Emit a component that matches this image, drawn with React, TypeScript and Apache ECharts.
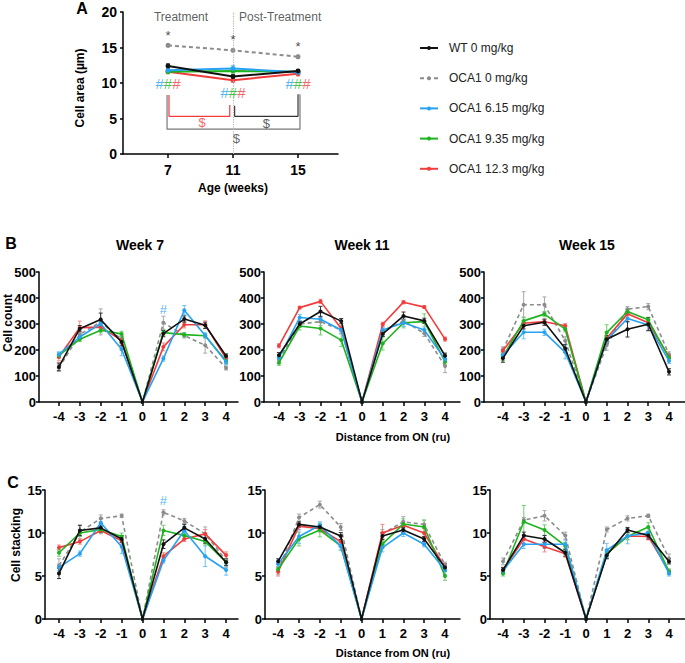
import React, { useEffect, useRef } from "react";
import * as echarts from "echarts";

const FONT = "'Liberation Sans', Arial, sans-serif";

const groupNames = ["WT 0 mg/kg", "OCA1 0 mg/kg", "OCA1 6.15 mg/kg", "OCA1 9.35 mg/kg", "OCA1 12.3 mg/kg"];
const groupColors = ["#111111", "#8c8c8c", "#26a2f2", "#1db31d", "#f23c3c"];
const errColors = ["#333333", "#a8a8a8", "#6cc0f5", "#6fd06f", "#f58585"];
const drawOrder = [1, 4, 3, 2, 0];

// ---------- Panel A : cell area by age ----------
const ageWeeks = [7, 11, 15];
const areaWT = [12.4, 10.9, 11.7];
const areaOCA0 = [15.3, 14.6, 13.7];
const areaOCA615 = [11.8, 12.05, 11.5];
const areaOCA935 = [11.6, 11.7, 11.6];
const areaOCA123 = [11.6, 10.4, 11.3];
const areaErrWT = [0.3, 0.3, 0.2];
const areaErrOCA0 = [0.2, 0.2, 0.2];
const areaErrOCA615 = [0.3, 0.4, 0.3];
const areaErrOCA935 = [0.3, 0.3, 0.2];
const areaErrOCA123 = [0.2, 0.3, 0.3];

// annotations of panel A (data coordinates)
const starPos = [[7, 16.7], [11, 16.1], [15, 15.1]];
const hashPos = [[7, 9.95], [11, 8.64], [15, 9.95]];
const bracketRed = [[7.06, 8.3], [7.06, 5.3], [10.8, 5.3], [10.8, 6.9]];
const bracketBlack = [[11.1, 6.8], [11.1, 5.3], [15, 5.3], [15, 8.4]];
const bracketGrey = [[6.94, 8.3], [6.94, 3.5], [15.12, 3.5], [15.12, 8.4]];
const dollarRedPos = [9.1, 4.5];
const dollarBlackPos = [13.05, 4.35];
const dollarGreyPos = [11.2, 2.2];
const phaseLabels = ["Treatment", "Post-Treatment"];
const phasePos = [[7.8, 19.3], [13.9, 19.3]];

// ---------- distance axis ----------
const distance = [-4, -3, -2, -1, 0, 1, 2, 3, 4];

// ---------- Panel B : cell count ----------
const count7WT = [135, 282, 317, 231, 0, 263, 319, 295, 177];
const count7OCA0 = [131, 260, 308, 241, 0, 305, 256, 218, 131];
const count7OCA615 = [183, 250, 301, 203, 0, 167, 353, 256, 154];
const count7OCA935 = [179, 241, 276, 262, 0, 267, 259, 255, 158];
const count7OCA123 = [173, 286, 288, 237, 0, 212, 297, 297, 167];
const count7ErrWT = [15, 12, 25, 15, 0, 12, 12, 12, 8];
const count7ErrOCA0 = [12, 15, 50, 15, 0, 25, 10, 30, 8];
const count7ErrOCA615 = [10, 10, 15, 25, 0, 10, 18, 10, 10];
const count7ErrOCA935 = [10, 8, 10, 10, 0, 10, 8, 8, 10];
const count7ErrOCA123 = [15, 25, 15, 15, 0, 15, 12, 15, 10];

const count11WT = [180, 300, 348, 311, 0, 262, 331, 312, 178];
const count11OCA0 = [164, 300, 309, 277, 0, 270, 312, 264, 138];
const count11OCA615 = [170, 325, 318, 277, 0, 277, 305, 277, 164];
const count11OCA935 = [151, 292, 283, 238, 0, 225, 305, 309, 155];
const count11OCA123 = [216, 363, 387, 283, 0, 299, 384, 365, 242];
const count11ErrWT = [10, 10, 20, 10, 0, 10, 15, 10, 10];
const count11ErrOCA0 = [15, 12, 15, 12, 0, 15, 20, 12, 25];
const count11ErrOCA615 = [12, 12, 12, 15, 0, 12, 15, 12, 12];
const count11ErrOCA935 = [10, 15, 25, 25, 0, 25, 20, 30, 10];
const count11ErrOCA123 = [8, 5, 8, 10, 0, 8, 6, 5, 8];

const count15WT = [168, 293, 307, 206, 0, 241, 280, 299, 116];
const count15OCA0 = [200, 374, 374, 236, 0, 219, 357, 367, 183];
const count15OCA615 = [180, 268, 268, 191, 0, 238, 321, 296, 158];
const count15OCA935 = [174, 312, 338, 280, 0, 267, 348, 316, 170];
const count15OCA123 = [197, 303, 309, 293, 0, 245, 339, 305, 174];
const count15ErrWT = [15, 12, 12, 15, 0, 15, 30, 25, 12];
const count15ErrOCA0 = [12, 50, 30, 15, 0, 20, 10, 12, 10];
const count15ErrOCA615 = [12, 25, 12, 25, 0, 15, 15, 20, 10];
const count15ErrOCA935 = [15, 15, 10, 10, 0, 30, 10, 10, 8];
const count15ErrOCA123 = [10, 10, 8, 8, 0, 10, 8, 10, 8];

// ---------- Panel C : cell stacking ----------
const stack7WT = [5.3, 10.3, 10.6, 9.3, 0, 8.7, 10.6, 9.3, 6.6];
const stack7OCA0 = [6.2, 10.1, 11.7, 12.0, 0, 12.4, 11.4, 9.9, 6.8];
const stack7OCA615 = [6.0, 7.6, 11.2, 8.4, 0, 6.8, 10.3, 7.3, 5.7];
const stack7OCA935 = [7.7, 10.0, 10.4, 9.6, 0, 10.3, 9.7, 9.0, 6.6];
const stack7OCA123 = [8.3, 9.0, 10.3, 9.1, 0, 7.3, 9.3, 9.9, 7.4];
const stack7ErrWT = [0.6, 0.6, 0.5, 0.4, 0, 0.5, 0.4, 0.5, 0.4];
const stack7ErrOCA0 = [0.8, 0.8, 0.4, 0.2, 0, 0.3, 0.3, 0.8, 0.8];
const stack7ErrOCA615 = [0.4, 0.3, 0.4, 0.8, 0, 0.3, 0.5, 1.2, 0.6];
const stack7ErrOCA935 = [0.4, 0.4, 0.4, 0.4, 0, 0.6, 0.3, 0.4, 0.4];
const stack7ErrOCA123 = [0.3, 0.3, 0.4, 0.4, 0, 0.4, 0.3, 0.5, 0.4];

const stack11WT = [6.7, 11.0, 10.7, 9.65, 0, 9.65, 10.35, 9.3, 6.0];
const stack11OCA0 = [5.6, 11.8, 13.3, 10.7, 0, 9.9, 11.3, 11.0, 6.3];
const stack11OCA615 = [6.4, 9.6, 10.9, 8.5, 0, 8.3, 10.0, 8.7, 5.7];
const stack11OCA935 = [5.8, 9.3, 10.35, 8.5, 0, 8.7, 11.05, 10.7, 5.0];
const stack11OCA123 = [5.5, 10.8, 10.5, 9.0, 0, 10.0, 10.9, 10.0, 6.0];
const stack11ErrWT = [0.3, 0.3, 0.3, 0.4, 0, 0.4, 0.3, 0.3, 0.4];
const stack11ErrOCA0 = [0.4, 0.4, 0.4, 0.4, 0, 0.5, 0.6, 0.5, 0.3];
const stack11ErrOCA615 = [0.3, 0.8, 0.4, 0.5, 0, 0.5, 0.4, 0.3, 0.5];
const stack11ErrOCA935 = [0.3, 0.8, 0.8, 0.5, 0, 0.4, 0.6, 0.8, 0.5];
const stack11ErrOCA123 = [0.5, 0.4, 0.4, 0.6, 0, 1.0, 0.4, 0.5, 0.4];

const stack15WT = [5.7, 9.7, 9.3, 7.7, 0, 7.4, 10.35, 9.7, 6.7];
const stack15OCA0 = [6.7, 11.5, 12.0, 9.7, 0, 10.4, 11.7, 12.0, 7.05];
const stack15OCA615 = [5.6, 8.7, 8.7, 8.7, 0, 8.0, 9.65, 10.0, 5.3];
const stack15OCA935 = [5.3, 11.3, 10.35, 8.5, 0, 7.6, 9.6, 10.7, 5.5];
const stack15OCA123 = [5.7, 9.3, 8.4, 7.6, 0, 7.6, 9.65, 9.6, 5.5];
const stack15ErrWT = [0.3, 0.4, 0.4, 0.4, 0, 0.4, 0.3, 0.4, 0.3];
const stack15ErrOCA0 = [0.4, 0.3, 0.6, 0.4, 0, 0.3, 0.3, 0.2, 0.5];
const stack15ErrOCA615 = [0.3, 0.5, 0.5, 0.5, 0, 0.8, 0.9, 0.6, 0.3];
const stack15ErrOCA935 = [0.3, 1.9, 0.6, 0.4, 0, 0.5, 0.4, 0.5, 0.3];
const stack15ErrOCA123 = [0.3, 0.5, 0.6, 0.4, 0, 0.5, 0.4, 0.4, 0.3];

// significance marks on B and C (week 7, distance 1)
const hashB7Pos = [1, 357];
const hashC7Pos = [1, 13.8];

// ---------- assemble ----------
const panelA = { vals: [areaWT, areaOCA0, areaOCA615, areaOCA935, areaOCA123], errs: [areaErrWT, areaErrOCA0, areaErrOCA615, areaErrOCA935, areaErrOCA123] };
const panelsBC = [
  { vals: [count7WT, count7OCA0, count7OCA615, count7OCA935, count7OCA123], errs: [count7ErrWT, count7ErrOCA0, count7ErrOCA615, count7ErrOCA935, count7ErrOCA123] },
  { vals: [count11WT, count11OCA0, count11OCA615, count11OCA935, count11OCA123], errs: [count11ErrWT, count11ErrOCA0, count11ErrOCA615, count11ErrOCA935, count11ErrOCA123] },
  { vals: [count15WT, count15OCA0, count15OCA615, count15OCA935, count15OCA123], errs: [count15ErrWT, count15ErrOCA0, count15ErrOCA615, count15ErrOCA935, count15ErrOCA123] },
  { vals: [stack7WT, stack7OCA0, stack7OCA615, stack7OCA935, stack7OCA123], errs: [stack7ErrWT, stack7ErrOCA0, stack7ErrOCA615, stack7ErrOCA935, stack7ErrOCA123] },
  { vals: [stack11WT, stack11OCA0, stack11OCA615, stack11OCA935, stack11OCA123], errs: [stack11ErrWT, stack11ErrOCA0, stack11ErrOCA615, stack11ErrOCA935, stack11ErrOCA123] },
  { vals: [stack15WT, stack15OCA0, stack15OCA615, stack15OCA935, stack15OCA123], errs: [stack15ErrWT, stack15ErrOCA0, stack15ErrOCA615, stack15ErrOCA935, stack15ErrOCA123] },
];

// layout (pixels) of the 7 plotting areas
const layouts = [
  { left: 123, top: 12, width: 215, height: 142, xmin: 4.23, xmax: 17.46 },
  { left: 39, top: 272, width: 199, height: 130, xmin: -4.95, xmax: 4.57 },
  { left: 264, top: 272, width: 196, height: 130, xmin: -4.72, xmax: 4.72 },
  { left: 484, top: 272, width: 201, height: 130, xmin: -4.91, xmax: 4.77 },
  { left: 45, top: 490, width: 193, height: 129, xmin: -4.67, xmax: 4.57 },
  { left: 265, top: 490, width: 195, height: 129, xmin: -4.63, xmax: 4.72 },
  { left: 490, top: 490, width: 195, height: 129, xmin: -4.63, xmax: 4.77 },
];

function errorSeries(gi: number, data: number[][], color: string) {
  return {
    type: "custom",
    xAxisIndex: gi,
    yAxisIndex: gi,
    silent: true,
    z: 2,
    data,
    encode: { x: 0, y: 1 },
    renderItem: (_params: any, api: any) => {
      const x = api.value(0);
      const y = api.value(1);
      const e = api.value(2);
      if (!e) return { type: "group", children: [] };
      const p1 = api.coord([x, y + e]);
      const p2 = api.coord([x, y - e]);
      const c = 2;
      const st = { stroke: color, lineWidth: 1 };
      return {
        type: "group",
        children: [
          { type: "line", shape: { x1: p1[0], y1: p1[1], x2: p2[0], y2: p2[1] }, style: st },
          { type: "line", shape: { x1: p1[0] - c, y1: p1[1], x2: p1[0] + c, y2: p1[1] }, style: st },
          { type: "line", shape: { x1: p2[0] - c, y1: p2[1], x2: p2[0] + c, y2: p2[1] }, style: st },
        ],
      };
    },
  };
}

function panelSeries(gi: number, xs: number[], vals: number[][], errs: number[][], lw: number, sym: number) {
  const out: any[] = [];
  drawOrder.forEach((g, k) => {
    out.push(errorSeries(gi, xs.map((x, i) => [x, vals[g][i], errs[g][i]]), errColors[g]));
    out.push({
      type: "line",
      name: groupNames[g],
      xAxisIndex: gi,
      yAxisIndex: gi,
      data: xs.map((x, i) => [x, vals[g][i]]),
      symbol: "circle",
      symbolSize: sym,
      showSymbol: true,
      lineStyle: { color: groupColors[g], width: lw, type: g === 1 ? [4, 3] : "solid" },
      itemStyle: { color: groupColors[g] },
      z: 3 + k,
      silent: true,
    });
  });
  return out;
}

function textSeries(gi: number, data: any[], label: any) {
  return {
    type: "scatter",
    xAxisIndex: gi,
    yAxisIndex: gi,
    symbolSize: 1,
    itemStyle: { color: "rgba(0,0,0,0)" },
    silent: true,
    z: 10,
    data,
    label: { show: true, position: "inside", fontFamily: FONT, ...label },
  };
}

function bracket(data: number[][], color: string) {
  return {
    type: "line",
    xAxisIndex: 0,
    yAxisIndex: 0,
    data,
    symbol: "none",
    silent: true,
    lineStyle: { color, width: 1.2 },
    z: 2,
  };
}

function buildOption() {
  const axisLine = { show: true, onZero: false, lineStyle: { color: "#000", width: 1.5 } };
  const axisTick = { show: true, length: 3, lineStyle: { color: "#000", width: 1.5 } };
  const labelBase = { color: "#000", fontWeight: "bold", fontFamily: FONT };

  const grid = layouts.map((l) => ({ left: l.left, top: l.top, width: l.width, height: l.height, containLabel: false }));

  const xAxis = layouts.map((l, i) => ({
    type: "value",
    gridIndex: i,
    min: l.xmin,
    max: l.xmax,
    axisLine,
    axisTick: { ...axisTick, length: 4, customValues: i === 0 ? ageWeeks : distance },
    axisLabel: { ...labelBase, fontSize: i === 0 ? 14 : 13, margin: i === 0 ? 9 : 8, customValues: i === 0 ? ageWeeks : distance },
    splitLine: { show: false },
  }));

  const yAxis = layouts.map((_l, i) => {
    const cfg = i === 0 ? { min: 0, max: 20, interval: 5 } : i <= 3 ? { min: 0, max: 500, interval: 100 } : { min: 0, max: 15, interval: 5 };
    return {
      type: "value",
      gridIndex: i,
      ...cfg,
      axisLine,
      axisTick,
      axisLabel: { ...labelBase, fontSize: i === 0 ? 14 : 13, margin: i === 0 ? 6 : 3 },
      splitLine: { show: false },
    };
  });

  const series: any[] = [];
  series.push(...panelSeries(0, ageWeeks, panelA.vals, panelA.errs, 2, 5));
  panelsBC.forEach((p, k) => {
    series.push(...panelSeries(k + 1, distance, p.vals, p.errs, 1.6, 4));
  });

  // panel A annotations
  series.push({
    ...bracket(bracketGrey, "#777777"),
    markLine: {
      silent: true,
      symbol: ["none", "none"],
      label: { show: false },
      lineStyle: { color: "#b5b5b5", type: "dotted", width: 1.2 },
      data: [{ xAxis: 11 }],
    },
  });
  series.push(bracket(bracketRed, "#f23c3c"));
  series.push(bracket(bracketBlack, "#333333"));
  series.push(textSeries(0, starPos, { formatter: "*", fontSize: 13, color: "#222" }));
  series.push(
    textSeries(0, hashPos, {
      formatter: "{b|#}{g|#}{r|#}",
      rich: {
        b: { color: groupColors[2], fontSize: 15, fontFamily: FONT },
        g: { color: groupColors[3], fontSize: 15, fontFamily: FONT },
        r: { color: groupColors[4], fontSize: 15, fontFamily: FONT },
      },
    })
  );
  series.push(textSeries(0, [dollarRedPos], { formatter: "$", fontSize: 13, color: "#f23c3c" }));
  series.push(textSeries(0, [dollarBlackPos], { formatter: "$", fontSize: 13, color: "#333" }));
  series.push(textSeries(0, [dollarGreyPos], { formatter: "$", fontSize: 13, color: "#444" }));
  series.push(
    textSeries(
      0,
      phaseLabels.map((n, i) => ({ name: n, value: phasePos[i] })),
      { formatter: "{b}", fontSize: 12, color: "#333" }
    )
  );
  series.push(textSeries(1, [hashB7Pos], { formatter: "#", fontSize: 13, color: groupColors[2] }));
  series.push(textSeries(4, [hashC7Pos], { formatter: "#", fontSize: 13, color: groupColors[2] }));

  const t = (x: number, y: number, text: string, size: number, bold = true, rot = 0) => ({
    type: "text",
    x,
    y,
    rotation: rot,
    silent: true,
    style: {
      text,
      x: 0,
      y: 0,
      align: "center",
      verticalAlign: "middle",
      fontFamily: FONT,
      fontSize: size,
      fontWeight: bold ? "bold" : "normal",
      fill: "#000",
    },
  });

  const graphic = [
    t(82, 8, "A", 16),
    t(11, 243, "B", 16),
    t(13, 482, "C", 16),
    t(140, 245, "Week 7", 14),
    t(362, 245, "Week 11", 14),
    t(587, 245, "Week 15", 14),
    t(80, 88, "Cell area (µm)", 12, true, Math.PI / 2),
    t(8, 323, "Cell count", 12, true, Math.PI / 2),
    t(16, 545, "Cell stacking", 12, true, Math.PI / 2),
    t(233, 188, "Age (weeks)", 12),
    t(393, 437, "Distance from ON (ru)", 11),
    t(393, 653, "Distance from ON (ru)", 11),
  ];

  return {
    animation: false,
    backgroundColor: "#ffffff",
    textStyle: { fontFamily: FONT },
    grid,
    xAxis,
    yAxis,
    legend: {
      data: groupNames,
      orient: "vertical",
      left: 414,
      top: 37,
      itemWidth: 18,
      itemHeight: 5,
      itemGap: 18.2,
      selectedMode: false,
      textStyle: { fontSize: 12, color: "#222", fontFamily: FONT, padding: [0, 0, 0, 6] },
    },
    graphic,
    series,
  };
}

export default function App() {
  const ref = useRef<HTMLDivElement>(null);
  useEffect(() => {
    if (!ref.current) return;
    const chart = echarts.init(ref.current, undefined, { renderer: "svg" });
    chart.setOption(buildOption() as any);
    return () => chart.dispose();
  }, []);
  return (
    <div
      ref={ref}
      style={{ position: "fixed", left: 0, top: 0, width: 685, height: 663, background: "#fff" }}
    />
  );
}
